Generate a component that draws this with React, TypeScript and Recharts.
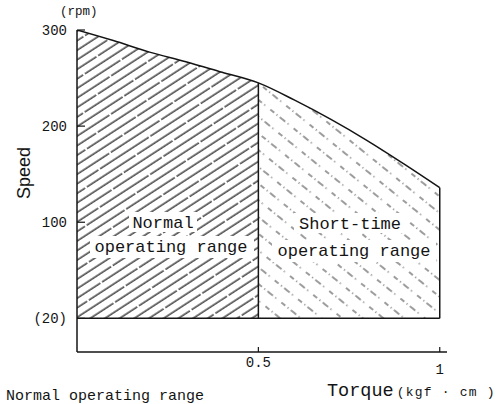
import React from 'react';
import { ComposedChart, Area, XAxis, YAxis, ReferenceLine } from 'recharts';

// Torque (kgf·cm) and the speed limit curve (rpm)
const torque = [0, 0.1, 0.2, 0.3, 0.4, 0.5, 0.6, 0.7, 0.8, 0.9, 1.0];
const speed = [300, 289, 277, 267, 256, 245, 227, 207, 185, 161, 136];
const NORMAL_MAX_TORQUE = 0.5;
const RATED_TORQUE = 1;
const MIN_SPEED = 20;

const xTicks = [0.5, 1];
const xTickLabels = ['0.5', '1'];
const yTicks = [20, 100, 200, 300];
const yTickLabels = ['(20)', '100', '200', '300'];

// The speed axis is broken: the minimum speed (20) is drawn at the origin.
const toAxis = (s: number) => (s === MIN_SPEED ? 0 : s);

const data = torque.map((t, i) => ({
  t,
  speed: toAxis(speed[i]),
  normal: t <= NORMAL_MAX_TORQUE ? toAxis(speed[i]) : null,
  short: t >= NORMAL_MAX_TORQUE ? toAxis(speed[i]) : null,
}));

const speedAt = (t: number) => toAxis(speed[torque.indexOf(t)]);

const MONO = '"Liberation Mono", "DejaVu Sans Mono", monospace';
const INK = '#141414';

const XTick = (props: any) => {
  const { x, y, payload } = props;
  const i = xTicks.indexOf(payload.value);
  return (
    <g>
      <line x1={x} x2={x} y1={y} y2={y - 5} stroke={INK} strokeWidth={1.2} />
      <text x={x} y={y + 15 + (i === 1 ? 7 : 0)} textAnchor="middle" fontFamily={MONO} fontSize={14} fill={INK}>
        {xTickLabels[i]}
      </text>
    </g>
  );
};

const YTick = (props: any) => {
  const { x, y, payload } = props;
  const i = yTicks.map(toAxis).indexOf(payload.value);
  return (
    <g>
      <line x1={x} x2={x + 8} y1={y} y2={y} stroke={INK} strokeWidth={1.2} />
      <text x={x - 10} y={y + 5} textAnchor="end" fontFamily={MONO} fontSize={14} fill={INK}>
        {yTickLabels[i]}
      </text>
    </g>
  );
};

export default function App() {
  return (
    <div style={{ position: 'absolute', left: 0, top: 0, width: 501, height: 404, background: '#fff' }}>
      <ComposedChart width={501} height={404} data={data} margin={{ top: 30, right: 54, bottom: 0, left: 0 }}>
        <defs>
          <pattern id="hatchNormal" patternUnits="userSpaceOnUse" width="60" height="24" patternTransform="rotate(-33)">
            <line x1="0" y1="4" x2="60" y2="4" stroke="#1a1a1a" strokeWidth="1.25" strokeDasharray="50 2 8 0" />
            <line x1="0" y1="12" x2="60" y2="12" stroke="#1a1a1a" strokeWidth="1.25" strokeDasharray="50 2 8 0" strokeDashoffset="21" />
            <line x1="0" y1="20" x2="60" y2="20" stroke="#1a1a1a" strokeWidth="1.25" strokeDasharray="50 2 8 0" strokeDashoffset="42" />
          </pattern>
          <pattern id="hatchShort" patternUnits="userSpaceOnUse" width="30" height="39" patternTransform="rotate(39)">
            <line x1="0" y1="6" x2="30" y2="6" stroke="#3a3a3a" strokeWidth="1" strokeDasharray="5 3 1.2 3 7 3 1.2 6.6" />
            <line x1="0" y1="19" x2="30" y2="19" stroke="#3a3a3a" strokeWidth="1" strokeDasharray="5 3 1.2 3 7 3 1.2 6.6" strokeDashoffset="11" />
            <line x1="0" y1="32" x2="30" y2="32" stroke="#3a3a3a" strokeWidth="1" strokeDasharray="5 3 1.2 3 7 3 1.2 6.6" strokeDashoffset="21" />
          </pattern>
        </defs>
        <XAxis
          dataKey="t"
          type="number"
          domain={[0, 1.02]}
          ticks={xTicks}
          height={52}
          tickSize={0}
          tickMargin={0}
          tickLine={false}
          axisLine={{ stroke: INK, strokeWidth: 1.5 }}
          tick={<XTick />}
          allowDataOverflow
        />
        <YAxis
          type="number"
          domain={[-35, 300]}
          ticks={yTicks.map(toAxis)}
          width={77}
          tickSize={0}
          tickMargin={0}
          tickLine={false}
          axisLine={{ stroke: INK, strokeWidth: 1.5 }}
          tick={<YTick />}
          allowDataOverflow
        />
        <Area
          dataKey="normal"
          type="monotone"
          baseValue={toAxis(MIN_SPEED)}
          fill="url(#hatchNormal)"
          fillOpacity={1}
          stroke="none"
          isAnimationActive={false}
          connectNulls={false}
          dot={false}
          activeDot={false}
        />
        <Area
          dataKey="short"
          type="monotone"
          baseValue={toAxis(MIN_SPEED)}
          fill="url(#hatchShort)"
          fillOpacity={1}
          stroke="none"
          isAnimationActive={false}
          connectNulls={false}
          dot={false}
          activeDot={false}
        />
        <Area
          dataKey="speed"
          type="monotone"
          baseValue={toAxis(MIN_SPEED)}
          fill="none"
          stroke={INK}
          strokeWidth={1.5}
          isAnimationActive={false}
          dot={false}
          activeDot={false}
        />
        <ReferenceLine
          segment={[
            { x: 0, y: toAxis(MIN_SPEED) },
            { x: RATED_TORQUE, y: toAxis(MIN_SPEED) },
          ]}
          stroke={INK}
          strokeWidth={1.5}
        />
        <ReferenceLine
          segment={[
            { x: NORMAL_MAX_TORQUE, y: toAxis(MIN_SPEED) },
            { x: NORMAL_MAX_TORQUE, y: speedAt(NORMAL_MAX_TORQUE) },
          ]}
          stroke={INK}
          strokeWidth={1.5}
        />
        <ReferenceLine
          segment={[
            { x: RATED_TORQUE, y: toAxis(MIN_SPEED) },
            { x: RATED_TORQUE, y: speedAt(RATED_TORQUE) },
          ]}
          stroke={INK}
          strokeWidth={1.5}
        />
      </ComposedChart>
      <svg width={501} height={404} style={{ position: 'absolute', left: 0, top: 0, pointerEvents: 'none' }}>
        <rect x={129} y={212} width={68} height={20} fill="#fff" />
        <rect x={90} y={236} width={164} height={22} fill="#fff" />
        <rect x={294} y={213} width={112} height={20} fill="#fff" />
        <rect x={272} y={240} width={164} height={22} fill="#fff" />
        <text x={163} y={228} textAnchor="middle" fontFamily={MONO} fontSize={17} fill={INK}>Normal</text>
        <text x={171} y={252} textAnchor="middle" fontFamily={MONO} fontSize={17} fill={INK}>operating range</text>
        <text x={350} y={229} textAnchor="middle" fontFamily={MONO} fontSize={17} fill={INK}>Short-time</text>
        <text x={354} y={256} textAnchor="middle" fontFamily={MONO} fontSize={17} fill={INK}>operating range</text>
        <text x={60} y={15} fontFamily={MONO} fontSize={12.5} fill={INK}>(rpm)</text>
        <text
          x={30}
          y={173}
          transform="rotate(-90 30 173)"
          textAnchor="middle"
          fontFamily='"Liberation Sans", Arial, sans-serif'
          fontSize={18}
          fill={INK}
        >
          Speed
        </text>
        <text x={327} y={396} fontFamily={MONO} fontSize={18.5} fill={INK}>
          Torque
          <tspan fontSize={13} dx={3} letterSpacing={1.2}>(kgf · cm )</tspan>
        </text>
        <text x={6} y={400} fontFamily={MONO} fontSize={15} fill={INK}>Normal operating range</text>
      </svg>
    </div>
  );
}
